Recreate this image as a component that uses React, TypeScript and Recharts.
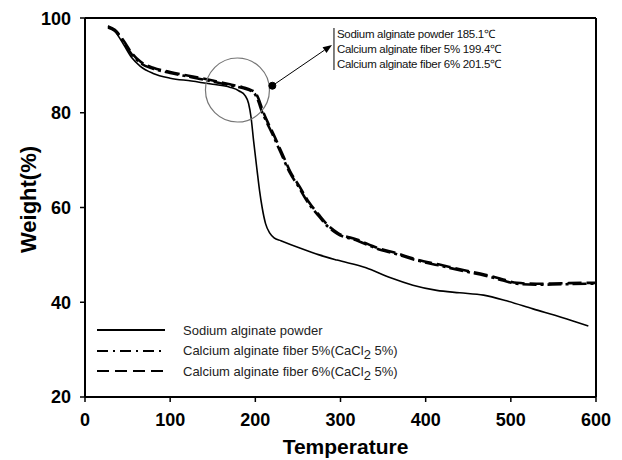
import React from "react";
import {
  LineChart,
  Line,
  XAxis,
  YAxis,
  ReferenceLine,
  ReferenceDot,
  Label,
} from "recharts";

// ---- data ----
const xTicks = [0, 100, 200, 300, 400, 500, 600];
const yTicks = [20, 40, 60, 80, 100];

const sodiumT = [27, 35, 45, 55, 65, 80, 100, 125, 150, 170, 181, 188, 192, 195, 198, 202, 205, 208, 212, 217, 222, 230, 253, 275, 296, 330, 358, 385, 413, 440, 468, 495, 526, 560, 591];
const sodiumW = [98.3, 97.2, 94.5, 91.6, 89.8, 88.3, 87.3, 86.7, 86.0, 85.4, 84.6, 83.6, 82, 79, 74, 67.9, 63.5, 60, 56.6, 54.6, 53.6, 53.0, 51.4, 50.0, 48.9, 47.3, 45.2, 43.6, 42.5, 42.0, 41.5, 40.3, 38.6, 36.8, 35.0];

const fiber5T = [27, 35, 45, 55, 65, 80, 100, 125, 150, 170, 185, 195, 200, 204, 207, 212, 220, 230, 240, 251, 262, 273, 285, 296, 320, 343, 365, 390, 415, 444, 470, 491, 507, 530, 560, 593, 600];
const fiber5W = [98.0, 97.3, 95.0, 92.3, 90.5, 89.3, 88.4, 87.5, 86.6, 85.8, 85.2, 84.6, 83.8, 82.2, 80.6, 78.5, 75.5, 71.5, 67.5, 64.3, 61.0, 58.5, 56.0, 54.5, 53.0, 51.3, 50.2, 48.8, 47.8, 46.6, 45.6, 44.6, 43.9, 43.7, 43.8, 43.9, 43.9];

const fiber6T = [27, 35, 45, 55, 65, 80, 100, 125, 150, 170, 185, 195, 201, 205, 208, 213, 221, 231, 241, 252, 263, 274, 286, 297, 320, 343, 365, 390, 415, 444, 470, 491, 507, 530, 560, 593, 600];
const fiber6W = [98.2, 97.5, 95.3, 92.6, 90.8, 89.5, 88.6, 87.7, 86.8, 86.0, 85.4, 84.8, 84.0, 82.4, 80.8, 78.6, 75.6, 71.6, 67.6, 64.4, 61.1, 58.6, 56.1, 54.6, 53.2, 51.5, 50.4, 49.0, 48.0, 46.8, 45.8, 44.8, 44.1, 43.9, 44.0, 44.1, 44.1];

const seriesNames = [
  "Sodium alginate powder",
  "Calcium alginate fiber 5%(CaCl",
  "Calcium alginate fiber 6%(CaCl",
];

const annotationLines = [
  "Sodium alginate powder 185.1\u2103",
  "Calcium alginate fiber 5% 199.4\u2103",
  "Calcium alginate fiber 6% 201.5\u2103",
];

// circle around onset region, dot and arrow end (data coordinates)
const circleCenter = { t: 179, w: 84.8 };
const dotPoint = { t: 220, w: 85.7 };
const arrowEnd = { t: 290, w: 94.3 };

const toData = (ts: number[], ws: number[]) => ts.map((t, i) => ({ t, w: ws[i] }));
const sodiumData = toData(sodiumT, sodiumW);
const fiber5Data = toData(fiber5T, fiber5W);
const fiber6Data = toData(fiber6T, fiber6W);

const FONT = "'Liberation Sans', Arial, sans-serif";

const series = [
  { name: seriesNames[0], data: sodiumData, dash: undefined as string | undefined, width: 1.6, sub: false, legendDash: undefined as string | undefined },
  { name: seriesNames[1], data: fiber5Data, dash: "14 4 3 4", width: 2.6, sub: true, legendDash: "11 5 2 5" },
  { name: seriesNames[2], data: fiber6Data, dash: "14 5", width: 2.6, sub: true, legendDash: "12 6" },
];

const LegendBox = () => (
  <div
    style={{
      position: "absolute",
      left: 89,
      top: 312,
      fontFamily: FONT,
      fontSize: 13,
      color: "#222",
    }}
  >
    {series.map((s, i) => (
      <div key={i} style={{ display: "flex", alignItems: "center", height: 20.5 }}>
        <svg width={70} height={8} style={{ marginRight: 16 }}>
          <line x1={0} y1={4} x2={68} y2={4} stroke="#000" strokeWidth={2} strokeDasharray={s.legendDash} />
        </svg>
        <span style={{ whiteSpace: "nowrap" }}>
          {s.name}
          {s.sub ? (
            <>
              <span style={{ position: "relative", top: 4 }}>2</span> 5%)
            </>
          ) : null}
        </span>
      </div>
    ))}
  </div>
);

const ArrowShape = (p: any) => {
  const { x1, y1, x2, y2 } = p;
  const ang = Math.atan2(y2 - y1, x2 - x1);
  const L = 9;
  const W = 3.5;
  const bx = x2 - L * Math.cos(ang);
  const by = y2 - L * Math.sin(ang);
  const px = -Math.sin(ang) * W;
  const py = Math.cos(ang) * W;
  const tx = x2 + 5;
  return (
    <g>
      <line x1={x1} y1={y1} x2={bx} y2={by} stroke="#000" strokeWidth={1} />
      <polygon points={`${x2},${y2} ${bx + px},${by + py} ${bx - px},${by - py}`} fill="#000" />
      <line x1={x2 + 2} y1={y2 - 17} x2={x2 + 2} y2={y2 + 25} stroke="#000" strokeWidth={1} />
      {annotationLines.map((s, i) => (
        <text key={i} x={tx} y={y2 - 7 + i * 15} fontFamily={FONT} fontSize={11.5} letterSpacing={-0.3} fill="#111">
          {s}
        </text>
      ))}
    </g>
  );
};

export default function App() {
  return (
    <div style={{ position: "relative", width: 610, height: 450 }}>
      <LineChart
        width={610}
        height={450}
        margin={{ top: 10, right: 22, left: 17, bottom: 11 }}
        style={{ fontFamily: FONT }}
      >
        <XAxis
          type="number"
          dataKey="t"
          domain={[0, 600]}
          ticks={xTicks}
          allowDataOverflow
          height={50}
          axisLine={{ stroke: "#000", strokeWidth: 2 }}
          tickLine={{ stroke: "#000", strokeWidth: 1.5 }}
          tickSize={5}
          tickMargin={11}
          tick={{ fill: "#000", fontSize: 18, fontWeight: "bold", fontFamily: FONT }}
        >
          <Label
            content={(props: any) => {
              const vb = props.viewBox || {};
              return (
                <text
                  x={vb.x + vb.width / 2 + 5}
                  y={vb.y + 57}
                  textAnchor="middle"
                  fontFamily={FONT}
                  fontSize={21}
                  fontWeight="bold"
                  fill="#000"
                >
                  Temperature
                </text>
              );
            }}
          />
        </XAxis>
        <YAxis
          type="number"
          domain={[20, 100]}
          ticks={yTicks}
          allowDataOverflow
          width={60}
          axisLine={{ stroke: "#000", strokeWidth: 2 }}
          tickLine={{ stroke: "#000", strokeWidth: 1.5 }}
          tickSize={5}
          tickMargin={9}
          tick={{ fill: "#000", fontSize: 18, fontWeight: "bold", fontFamily: FONT }}
        >
          <Label
            content={(props: any) => {
              const vb = props.viewBox || {};
              const cx = 20;
              const cy = vb.y + vb.height / 2 - 8;
              return (
                <text
                  x={cx}
                  y={cy}
                  transform={`rotate(-90 ${cx} ${cy})`}
                  textAnchor="middle"
                  dominantBaseline="central"
                  fontFamily={FONT}
                  fontSize={22}
                  fontWeight="bold"
                  fill="#000"
                >
                  Weight(%)
                </text>
              );
            }}
          />
        </YAxis>
        <ReferenceLine y={100} stroke="#000" strokeWidth={2} />
        <ReferenceLine x={600} stroke="#000" strokeWidth={2} />
        {series.map((s, i) => (
          <Line
            key={i}
            data={s.data}
            dataKey="w"
            name={s.name}
            type="monotone"
            stroke="#000"
            strokeWidth={s.width}
            strokeDasharray={s.dash}
            dot={false}
            activeDot={false}
            isAnimationActive={false}
          />
        ))}
        <ReferenceDot x={circleCenter.t} y={circleCenter.w} r={32} fill="none" stroke="#777" strokeWidth={1.2} />
        <ReferenceLine
          segment={[
            { x: dotPoint.t, y: dotPoint.w },
            { x: arrowEnd.t, y: arrowEnd.w },
          ]}
          shape={ArrowShape}
        />
        <ReferenceDot x={dotPoint.t} y={dotPoint.w} r={3.5} fill="#000" stroke="#000" />
      </LineChart>
      <LegendBox />
    </div>
  );
}
